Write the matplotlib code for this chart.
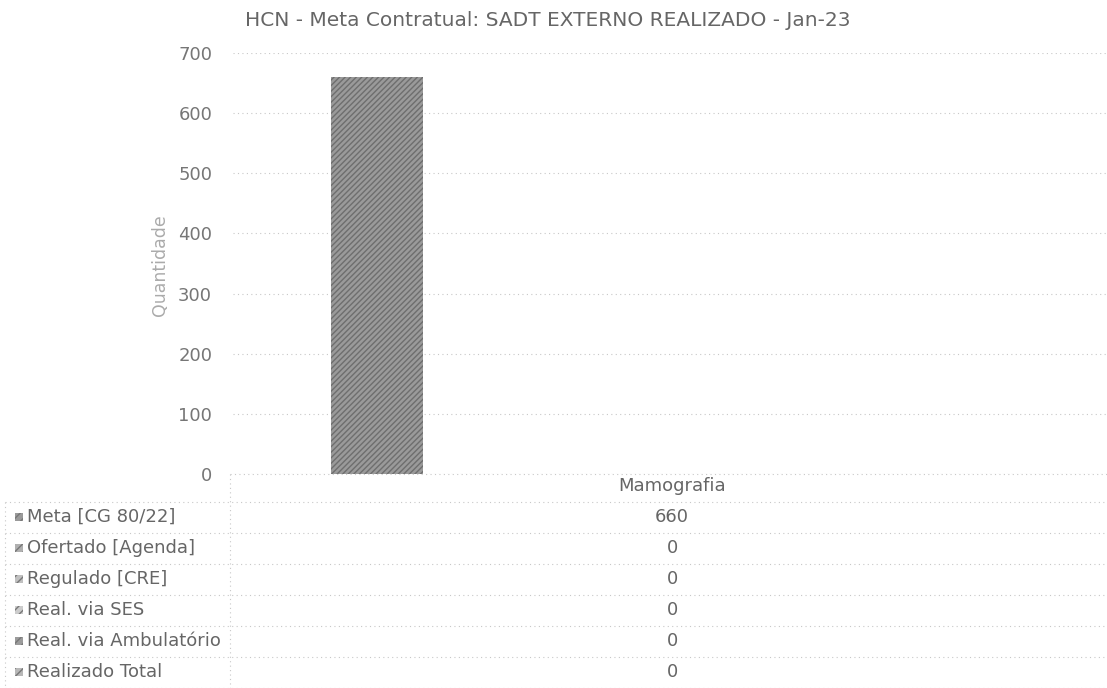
import matplotlib
matplotlib.use("Agg")
import matplotlib.pyplot as plt
from matplotlib.patches import Rectangle

plt.rcParams['font.family'] = ['DejaVu Sans']

# Data
title = "HCN - Meta Contratual: SADT EXTERNO REALIZADO - Jan-23"
category = "Mamografia"
series = ["Meta [CG 80/22]", "Ofertado [Agenda]", "Regulado [CRE]",
          "Real. via SES", "Real. via Ambulatório", "Realizado Total"]
values = [660, 0, 0, 0, 0, 0]
colors = ["#9a9a9a", "#b0b0b0", "#c0c0c0", "#cccccc", "#9c9c9c", "#b8b8b8"]
yticks = [0, 100, 200, 300, 400, 500, 600, 700]

W, H = 1107, 688
fig = plt.figure(figsize=(W / 100, H / 100), dpi=100)

# plot area in pixels
left, right, top, bottom = 233, 1107, 53, 474
ax = fig.add_axes([left / W, 1 - bottom / H, (right - left) / W, (bottom - top) / H])

bar_w = 0.105
start = 0.112
for i, (s, v, c) in enumerate(zip(series, values, colors)):
    ax.bar(start + bar_w * i + bar_w / 2, v, width=bar_w, color=c,
           hatch='//////', edgecolor='#6e6e6e', linewidth=0, zorder=3)

ax.set_xlim(0, 1)
ax.set_ylim(0, 700)
ax.set_yticks(yticks)
ax.set_xticks([])
ax.tick_params(axis='y', length=0, labelsize=13, labelcolor='#767676', pad=15)
for sp in ax.spines.values():
    sp.set_visible(False)
ax.grid(axis='y', color='#c8c8c8', linestyle=(0, (1, 3)), linewidth=0.8, zorder=0)
fig.text(160 / W, 1 - 265 / H, "Quantidade", rotation=90, ha='center', va='center',
         fontsize=12.5, color='#ababab')

fig.text(548 / W, 1 - 20 / H, title, ha='center', va='center', fontsize=14.5, color='#666666')

# data table below the chart
row_y = [486, 517, 548, 579, 610, 641, 672]
half = 15.5
line_kw = dict(color='#c8c8c8', linestyle=(0, (1, 3)), linewidth=0.8)
sep_x = 230
val_x = 672
fig.text(val_x / W, 1 - row_y[0] / H, category, ha='center', va='center',
         fontsize=13, color='#666666')

def hline(x0, y):
    fig.add_artist(plt.Line2D([x0 / W, 1], [1 - y / H] * 2,
                              transform=fig.transFigure, **line_kw))

def vline(x, y0, y1):
    fig.add_artist(plt.Line2D([x / W] * 2, [1 - y0 / H, 1 - y1 / H],
                              transform=fig.transFigure, **line_kw))

hline(sep_x, bottom)
for yc in row_y:
    hline(5, yc + half)
vline(5, row_y[0] + half, row_y[-1] + half)
vline(sep_x, bottom, row_y[-1] + half)

for k, (s, v, c) in enumerate(zip(series, values, colors)):
    y = 1 - row_y[k + 1] / H
    fig.add_artist(Rectangle((15 / W, y - 4 / H), 8 / W, 8 / H, transform=fig.transFigure,
                             facecolor=c, hatch='////', edgecolor='#787878', linewidth=0))
    fig.text(27 / W, y, s, ha='left', va='center', fontsize=13, color='#666666')
    fig.text(val_x / W, y, str(v), ha='center', va='center', fontsize=13, color='#666666')

fig.savefig("out.png", dpi=100)
